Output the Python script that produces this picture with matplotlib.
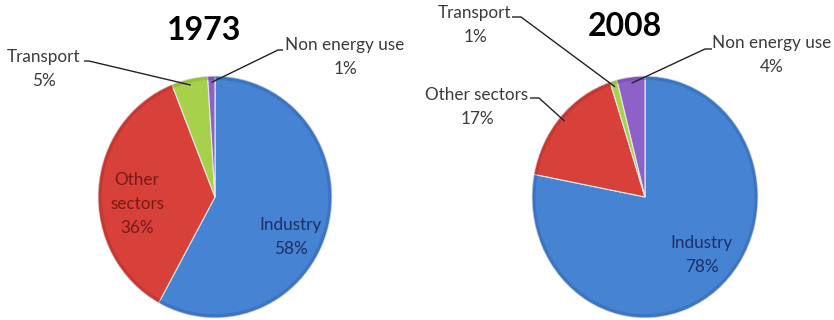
import matplotlib
matplotlib.use('Agg')
import matplotlib.pyplot as plt
import numpy as np

plt.rcParams['font.family'] = ['Lato', 'DejaVu Sans']

sectors = ['Industry', 'Other sectors', 'Transport', 'Non energy use']
share_1973 = [58, 36, 5, 1]
share_2008 = [78, 17, 1, 4]
years = ['1973', '2008']

fill = ['#4683d3', '#d8403a', '#a7d04b', '#8d61c8']
rim = ['#2f62ad', '#b02e2a', '#86aa33', '#6a459e']

W, H = 834, 320
fig = plt.figure(figsize=(W / 100, H / 100), dpi=100)
fig.patch.set_facecolor('white')

# pixel geometry of each pie: centre x, centre y, x radius, y radius
pies = [(215, 197, 118, 122), (645, 197, 114, 122)]


def draw_pie(geom, values):
    cx, cy, rx, ry = geom
    ax = fig.add_axes([(cx - rx) / W, 1 - (cy + ry) / H, 2 * rx / W, 2 * ry / H])
    wedges, _ = ax.pie(values, colors=fill, startangle=90, counterclock=False,
                       radius=1.0,
                       wedgeprops=dict(edgecolor='#e8e8e8', linewidth=0.8))
    # soft darker band along the outer edge
    ax.pie(values, colors=rim, startangle=90, counterclock=False, radius=1.0,
           wedgeprops=dict(width=0.03, edgecolor='none', alpha=0.45))
    ax.set_aspect('auto')
    ax.set_xlim(-1.01, 1.01)
    ax.set_ylim(-1.01, 1.01)
    ax.axis('off')
    anchors = []
    for w in wedges:
        t = np.deg2rad((w.theta1 + w.theta2) / 2)
        anchors.append((cx + 0.94 * rx * np.cos(t), cy - 0.94 * ry * np.sin(t)))
    return anchors


anchors_1973 = draw_pie(pies[0], share_1973)
anchors_2008 = draw_pie(pies[1], share_2008)

ov = fig.add_axes([0, 0, 1, 1], zorder=5)
ov.set_xlim(0, W)
ov.set_ylim(H, 0)
ov.axis('off')
ov.patch.set_alpha(0)

fs = 12.3
txt = dict(fontsize=fs, color='#3a3a3a', ha='center', va='center')

# titles
ov.text(204, 30, years[0], fontsize=23, fontweight='bold', ha='center', va='center', color='black')
ov.text(625, 26, years[1], fontsize=23, fontweight='bold', ha='center', va='center', color='black')

# labels inside the slices
red_txt = dict(fontsize=fs, color='#7a1a16', ha='center', va='center')
blue_txt = dict(fontsize=fs, color='#1c2f66', ha='center', va='center')
ov.text(137, 180, 'Other', **red_txt)
ov.text(137, 204, 'sectors', **red_txt)
ov.text(137, 228, f'{share_1973[1]}%', **red_txt)
ov.text(291, 225, sectors[0], **blue_txt)
ov.text(291, 249, f'{share_1973[0]}%', **blue_txt)
ov.text(702, 243, sectors[0], **blue_txt)
ov.text(702, 267, f'{share_2008[0]}%', **blue_txt)


def callout(name, value, tx, ty, line_start, line_knee, anchor):
    ov.text(tx, ty, name, **txt)
    ov.text(tx, ty + 24, f'{value}%', **txt)
    xs = [line_start[0], line_knee[0], anchor[0]]
    ys = [line_start[1], line_knee[1], anchor[1]]
    ov.plot(xs, ys, color='#222222', lw=1.0, solid_capstyle='butt')


callout(sectors[2], share_1973[2], 44, 57, (84, 61), (89, 61), anchors_1973[2])
callout(sectors[3], share_1973[3], 345, 45, (283, 50), (278, 50), anchors_1973[3])
callout(sectors[2], share_2008[2], 475, 13, (512, 17), (521, 17), anchors_2008[2])
callout(sectors[3], share_2008[3], 772, 43, (712, 49), (705, 49), anchors_2008[3])
callout(sectors[1], share_2008[1], 477, 95, (530, 98), (539, 98), anchors_2008[1])

fig.savefig('out.png', dpi=100, facecolor='white')
